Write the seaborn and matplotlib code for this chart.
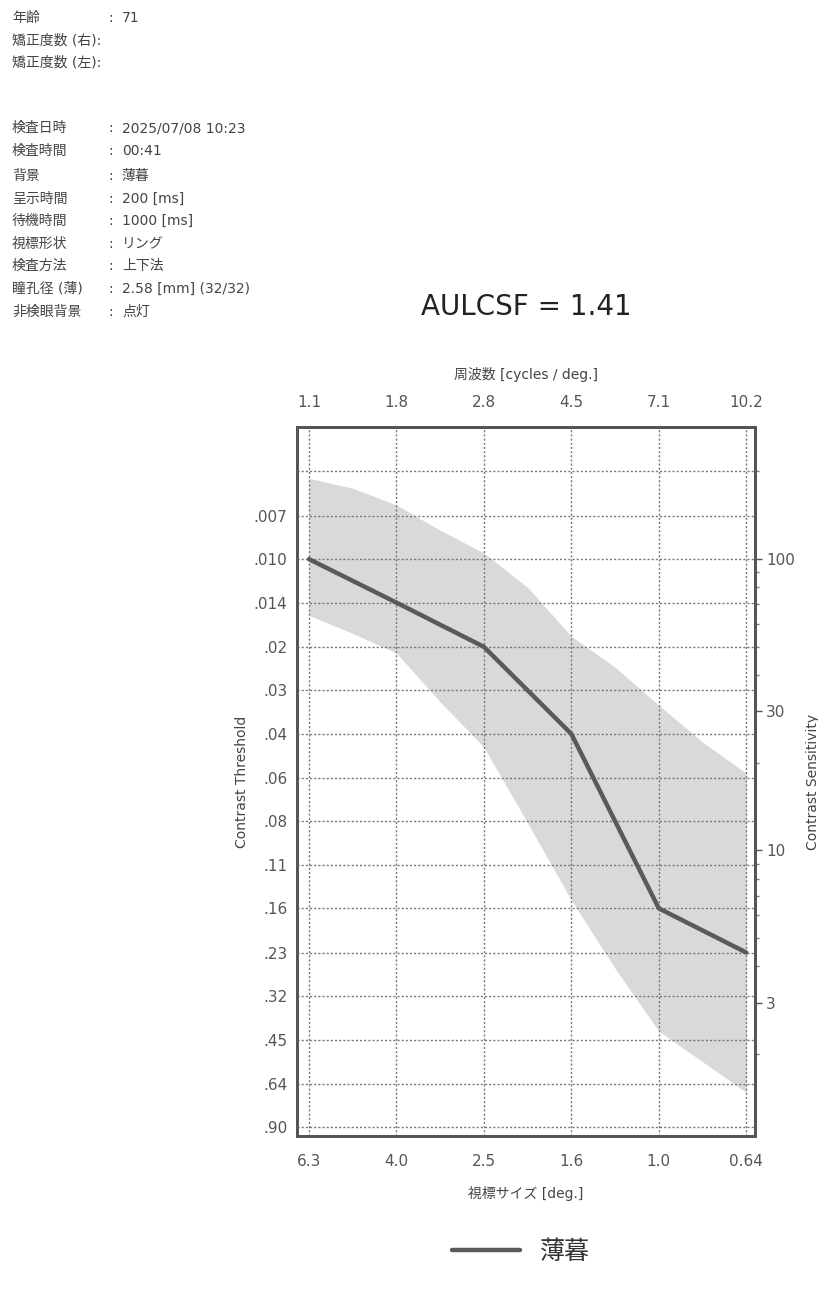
import pandas as pd
import seaborn as sns
import matplotlib.pyplot as plt
from matplotlib.ticker import NullLocator, LogLocator, NullFormatter

# x categories (bottom: target size, top: spatial frequency)
size_labels = ["6.3", "4.0", "2.5", "1.6", "1.0", "0.64"]
freq_labels = ["1.1", "1.8", "2.8", "4.5", "7.1", "10.2"]

# measured contrast threshold
threshold = [0.010, 0.0141, 0.020, 0.0398, 0.158, 0.224]

# grey normal band, read at every column and half-way between columns
band_pos = [0, 0.5, 1, 1.5, 2, 2.5, 3, 3.5, 4, 4.5, 5]
band_low = [0.00528, 0.00571, 0.00652, 0.00796, 0.00953, 0.0125,
            0.0184, 0.0235, 0.0317, 0.0425, 0.0543]
band_high = [0.0156, 0.0180, 0.0210, 0.0309, 0.0442, 0.0805,
             0.148, 0.254, 0.417, 0.531, 0.676]

# left axis (threshold) and right axis (sensitivity) ticks
ct_ticks = [0.0050, 0.0071, 0.010, 0.0141, 0.020, 0.0282, 0.0398, 0.0562,
            0.0794, 0.112, 0.158, 0.224, 0.316, 0.447, 0.631, 0.891]
ct_labels = ["", ".007", ".010", ".014", ".02", ".03", ".04", ".06",
             ".08", ".11", ".16", ".23", ".32", ".45", ".64", ".90"]
cs_ticks = [100, 30, 10, 3]
cs_labels = ["100", "30", "10", "3"]

# header info
info_labels = ["年齢", "矯正度数 (右):", "矯正度数 (左):", "検査日時", "検査時間", "背景",
               "呈示時間", "待機時間", "視標形状", "検査方法", "瞳孔径 (薄)", "非検眼背景"]
info_values = ["71", "", "", "2025/07/08 10:23", "00:41", "薄暮",
               "200 [ms]", "1000 [ms]", "リング", "上下法",
               "2.58 [mm] (32/32)", "点灯"]
info_y = [18, 41, 63, 128, 151, 176, 199, 221, 244, 266, 289, 312]

sns.set_theme(style="white")
plt.rcParams['font.family'] = ['DejaVu Sans', 'Noto Sans CJK JP']

W, H = 818, 1300
fig = plt.figure(figsize=(W / 100, H / 100), dpi=100)
fig.patch.set_facecolor("white")

for lab, val, y in zip(info_labels, info_values, info_y):
    fig.text(12 / W, 1 - y / H, lab, fontsize=10, color="#444", va="center")
    if val:
        fig.text(108 / W, 1 - y / H, ":", fontsize=10, color="#444", va="center")
        fig.text(122 / W, 1 - y / H, val, fontsize=10, color="#444", va="center")

fig.text(526 / W, 1 - 307 / H, "AULCSF = 1.41", fontsize=20, color="#222",
         ha="center", va="center")

ax = fig.add_axes([297 / W, 1 - 1136 / H, (755 - 297) / W, (1136 - 427) / H])
pos = list(range(len(size_labels)))
ax.fill_between(band_pos, band_low, band_high, color="#d9d9d9", lw=0, zorder=1)
df = pd.DataFrame({"pos": pos, "threshold": threshold})
sns.lineplot(data=df, x="pos", y="threshold", color="#5a5a5a", lw=3.2,
             ax=ax, zorder=3)
ax.set_yscale("log")
ax.set_ylim(0.955, 0.00352)
ax.set_xlim(-0.137, 5.10)

ax.set_yticks(ct_ticks, ct_labels)
ax.yaxis.set_minor_locator(NullLocator())
ax.set_xticks(pos, size_labels)
ax.set_axisbelow("line")
ax.grid(True, which="major", ls=(0, (1.5, 1.5)), color="#777", lw=1)
ax.tick_params(axis="y", length=0, pad=7, labelsize=11, labelcolor="#555")
ax.tick_params(axis="x", length=0, pad=13, labelsize=11, labelcolor="#555")
ax.set_xlabel("視標サイズ [deg.]", fontsize=10, color="#444", labelpad=12)
ax.set_ylabel("Contrast Threshold", fontsize=10, color="#444", labelpad=3)

top = ax.secondary_xaxis("top")
top.set_xticks(pos, freq_labels)
top.tick_params(length=0, pad=12, labelsize=11, labelcolor="#555")
top.set_xlabel("周波数 [cycles / deg.]", fontsize=10, color="#444", labelpad=12)

rax = ax.twinx()
rax.set_yscale("log")
rax.set_ylim(1 / 0.955, 1 / 0.00352)
rax.set_yticks(cs_ticks, cs_labels)
rax.yaxis.set_minor_locator(LogLocator(subs=range(2, 10)))
rax.yaxis.set_minor_formatter(NullFormatter())
rax.grid(False)
rax.tick_params(which="major", length=5, width=1, color="#555", pad=3,
                labelsize=11, labelcolor="#555")
rax.tick_params(which="minor", length=3, width=1, color="#777")
rax.set_ylabel("Contrast Sensitivity", fontsize=10, color="#444", labelpad=8)

for a in (ax, rax):
    for s in a.spines.values():
        s.set_color("#555")
        s.set_linewidth(2)
for s in top.spines.values():
    s.set_color("#555")
    s.set_linewidth(2)

fig.legend(handles=ax.get_lines()[:1], labels=["薄暮"], loc="center",
           bbox_to_anchor=(521 / W, 1 - 1252 / H), frameon=False,
           fontsize=18, handlelength=2.7, labelcolor="#333")

fig.savefig("out.png", dpi=100, facecolor="white")
